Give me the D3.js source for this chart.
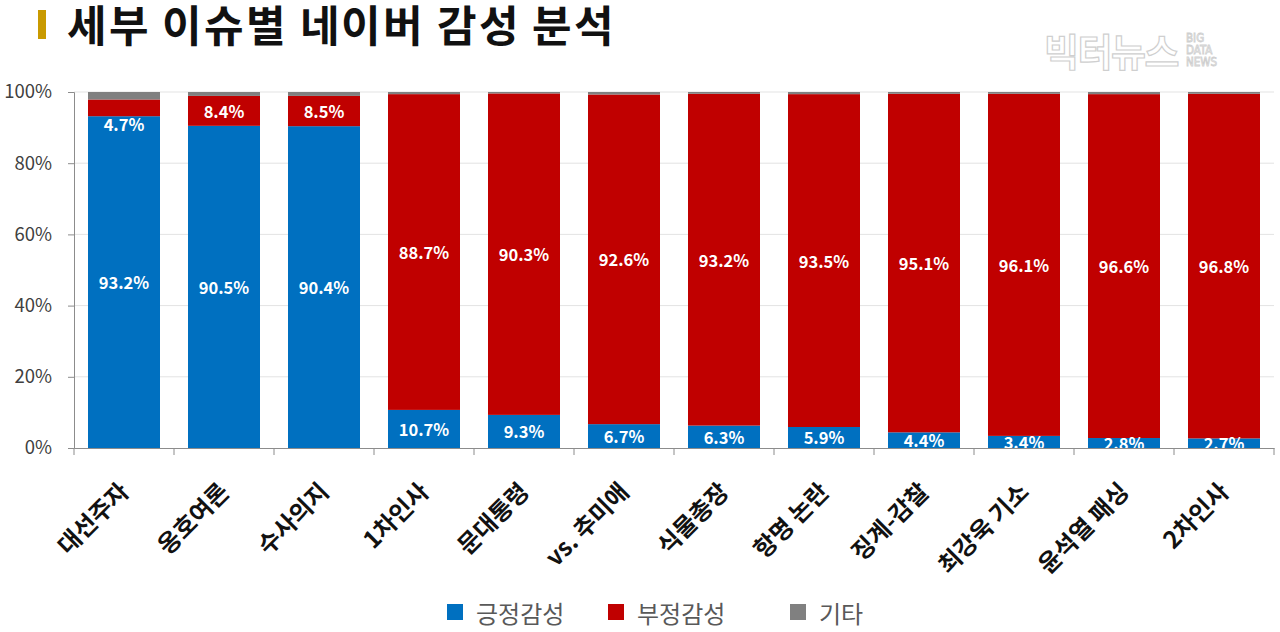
<!DOCTYPE html>
<html>
<head>
<meta charset="utf-8">
<script src="https://cdn.jsdelivr.net/npm/d3@7"></script>
<style>
  @font-face {
    font-family: "TitleKR";
    src: local("Noto Sans CJK KR Bold"), local("NotoSansCJKkr-Bold"), local("Noto Sans CJK KR");
    font-weight: 700;
    ascent-override: 92%;
    descent-override: 14%;
    line-gap-override: 0%;
  }
  html, body { margin: 0; padding: 0; background: #ffffff; }
  svg { display: block; font-family: "Noto Sans CJK KR", "Noto Sans", sans-serif; }
</style>
</head>
<body>
<svg id="chart" width="1280" height="632"></svg>
<script>
const categories = ["대선주자","옹호여론","수사의지","1차인사","문대통령","vs. 추미애","식물총장","항명 논란","징계-감찰","최강욱 기소","윤석열 패싱","2차인사"];
const positive = [93.2, 90.5, 90.4, 10.7, 9.3, 6.7, 6.3, 5.9, 4.4, 3.4, 2.8, 2.7];
const negative = [4.7, 8.4, 8.5, 88.7, 90.3, 92.6, 93.2, 93.5, 95.1, 96.1, 96.6, 96.8];
const other = [2.1, 1.1, 1.1, 0.6, 0.4, 0.7, 0.5, 0.6, 0.5, 0.5, 0.6, 0.5];
const seriesNames = ["긍정감성", "부정감성", "기타"];
const seriesColors = ["#0070C0", "#C00000", "#808080"];
const yTicks = [0, 20, 40, 60, 80, 100];
const titleText = "세부 이슈별 네이버 감성 분석";

const svg = d3.select("#chart");
const margin = {left: 74, right: 6, top: 92, bottom: 184};
const W = 1280, H = 632;
const plotW = W - margin.left - margin.right;
const plotH = H - margin.top - margin.bottom;

// Title
svg.append("rect").attr("x", 38).attr("y", 10).attr("width", 8).attr("height", 29).attr("fill", "#C99A00");
svg.append("text").attr("x", 67).attr("y", 42).attr("font-size", 43).attr("font-weight", 700)
  .attr("font-family", "TitleKR, 'Noto Sans CJK KR', sans-serif")
  .attr("letter-spacing", 1.8).attr("fill", "#111").text(titleText);

// Watermark
svg.append("text").attr("x", 1044).attr("y", 66).attr("font-size", 38).attr("font-weight", 700)
  .attr("fill", "#fff").attr("stroke", "#cfcfcf").attr("stroke-width", 1.2).attr("letter-spacing", -1.5).text("빅터뉴스");
["BIG","DATA","NEWS"].forEach((t, i) => {
  svg.append("text").attr("x", 1186).attr("y", 42 + i * 12).attr("font-size", 11.5)
    .attr("font-family", "DejaVu Sans Condensed, Liberation Sans Narrow, sans-serif")
    .attr("fill", "#fff").attr("stroke", "#cfcfcf").attr("stroke-width", 0.8).text(t);
});

const g = svg.append("g").attr("transform", `translate(${margin.left},${margin.top})`);

const x = d3.scaleBand().domain(categories).range([0, plotW]).paddingInner(0.28).paddingOuter(0.14);
const y = d3.scaleLinear().domain([0, 100]).range([plotH, 0]);

// Gridlines
g.append("g").selectAll("line").data(yTicks.filter(d => d > 0)).join("line")
  .attr("x1", 0).attr("x2", plotW).attr("y1", d => y(d)).attr("y2", d => y(d))
  .attr("stroke", "#e3e3e3").attr("stroke-width", 1);

// Stack
const rows = categories.map((c, i) => ({cat: c, 0: positive[i], 1: negative[i], 2: other[i]}));
const stack = d3.stack().keys([0, 1, 2])(rows);

const layers = g.append("g").selectAll("g").data(stack).join("g").attr("fill", (d, i) => seriesColors[i]);
layers.selectAll("rect").data(d => d).join("rect")
  .attr("x", d => x(d.data.cat))
  .attr("width", x.bandwidth())
  .attr("y", d => y(d[1]))
  .attr("height", d => y(d[0]) - y(d[1]));

// Clip for labels
svg.append("defs").append("clipPath").attr("id", "plotclip").append("rect")
  .attr("x", 0).attr("y", 0).attr("width", plotW).attr("height", plotH);

const labelG = g.append("g").attr("clip-path", "url(#plotclip)");
stack.slice(0, 2).forEach((layer, si) => {
  labelG.append("g").selectAll("text").data(layer).join("text")
    .attr("x", d => x(d.data.cat) + x.bandwidth() / 2)
    .attr("y", d => {
      const top = y(d[1]), bot = y(d[0]);
      if (si === 1 && bot - top < 20) return bot + 8;
      return (top + bot) / 2;
    })
    .attr("text-anchor", "middle").attr("dominant-baseline", "central")
    .attr("font-size", 16.5).attr("font-weight", 700).attr("fill", "#fff")
    .text(d => (d[1] - d[0]).toFixed(1) + "%");
});

// Y axis
const yAxis = g.append("g").call(d3.axisLeft(y).tickValues(yTicks).tickFormat(d => d + "%").tickSize(6).tickPadding(16));
yAxis.select(".domain").attr("stroke", "#8c8c8c");
yAxis.selectAll(".tick line").attr("stroke", "#8c8c8c");
yAxis.selectAll(".tick text").attr("font-size", 18.5).attr("fill", "#404040")
  .attr("font-family", "Noto Sans CJK KR, sans-serif");

// X axis
const xAxis = g.append("g").attr("transform", `translate(0,${plotH})`)
  .call(d3.axisBottom(x).tickSize(0).tickFormat(""));
xAxis.select(".domain").attr("stroke", "#8c8c8c");
xAxis.selectAll(".tick").remove();
const bounds = d3.range(categories.length + 1).map(i => i * x.step());
xAxis.selectAll("line.b").data(bounds).join("line").attr("class", "b")
  .attr("x1", d => d).attr("x2", d => d).attr("y1", 0).attr("y2", 7).attr("stroke", "#8c8c8c");

g.append("g").selectAll("text").data(categories).join("text")
  .attr("transform", d => `translate(${x(d) + x.bandwidth() / 2 - 1},${plotH + 38}) rotate(-45)`)
  .attr("text-anchor", "end").attr("dominant-baseline", "central")
  .attr("font-size", 24).attr("font-weight", 700).attr("fill", "#111")
  .text(d => d);

// Legend
const legendX = [447, 608, 790];
const legend = svg.append("g").selectAll("g").data(seriesNames).join("g")
  .attr("transform", (d, i) => `translate(${legendX[i]},604)`);
legend.append("rect").attr("width", 16).attr("height", 16).attr("fill", (d, i) => seriesColors[i]);
legend.append("text").attr("x", 29).attr("y", 8).attr("dominant-baseline", "central")
  .attr("font-size", 24).attr("fill", "#595959").text(d => d);
</script>
</body>
</html>
